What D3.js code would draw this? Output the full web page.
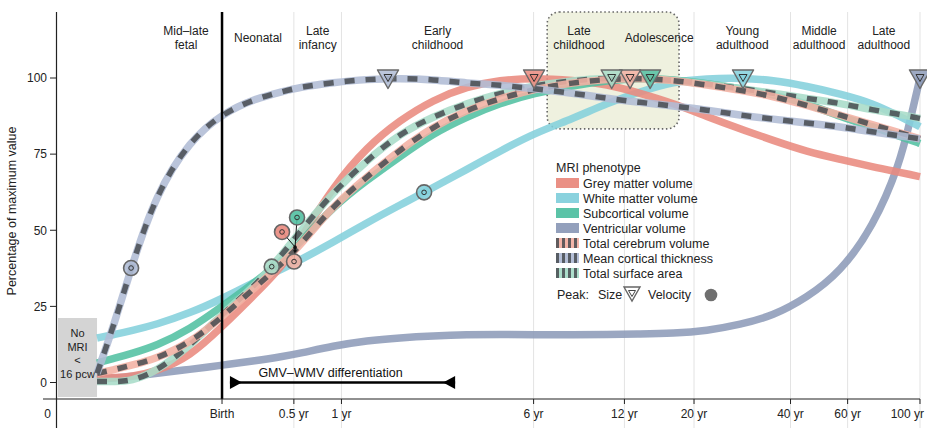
<!DOCTYPE html>
<html><head><meta charset="utf-8">
<script src="https://cdn.jsdelivr.net/npm/d3@7"></script>
<style>
body{margin:0;background:#fff;}
svg{display:block;font-family:"Liberation Sans",Arial,Helvetica,sans-serif;}
</style>
</head><body>
<svg id="chart" width="927" height="428"></svg>
<script>
// ---------- DATA ----------
const BIRTH_PC = 280 / 365.25;           // birth, in years post-conception
// sample ages in years post-conception
const ages = [0.32, 0.363, 0.406, 0.483, 0.613, 0.767, 0.972, 1.166, 1.322, 1.666, 2.112, 2.661, 3.351, 4.249, 5.352, 6.788, 8.915, 11.31, 14.24, 17.94, 22.76, 28.65, 36.08, 45.77, 57.63, 72.59, 87.7, 94.0, 100.77];
// percentage of maximum value
const greyMatter        = [1.4,1.6,2,3.5,8.5, 18.3,29.3,38,47,64.3, 77.4,86.2,92.8,97.2,99.3, 100,99.3,98,95,91.7, 87.3,83.3,79.5,75.8,73.3, 70.8,69,68.3,67.6];
const whiteMatter       = [14.6,15.8,17,19,22.8, 27.5,33.2,37.3,40.2,46, 52.5,58.3,64,70,76, 81.8,86.7,91.7,95.5,98.8, 99.8,100,99.3,97.3,94.8, 91.7,87.3,85.7,84];
const subcortical       = [6.4,8,9.5,12,17.5, 25,33.1,40,46,57.7, 66.5,74.2,81.8,87.3,91.7, 95,97.5,99.2,99.9,99.5, 98.2,96.6,94.5,91.7,87.3, 84,80.8,79.7,78.5];
const ventricular       = [1,1.5,2,3,4.3, 5.7,7.2,8.5,9.6,12, 13.8,14.7,15.3,15.7,15.8, 15.7,15.7,15.8,15.9,16.1, 17,19,21.9,27.9,36.2, 51,72,86,100];
const totalCerebrum     = [3,4.3,5.6,7.8,13, 21.5,31.5,39,45,58, 67.6,76.4,84,89.5,93.3, 96.3,98.5,99.6,99.9,99.3, 97.7,96,94,91,87.8, 84.6,82,81,80];
const corticalThickness = [3,20,37.6,62,79.5, 88.3,93.3,95.5,97,98.5, 99.6,99.9,99.5,98.3,97.7, 96.5,95,93.3,92,90.8, 89.5,87.8,86.5,85.2,84, 82.3,81,80.5,80];
const surfaceArea       = [0.3,0.3,0.5,3.5,12, 22.5,32,42,49.5,62.5, 73,81.8,87.3,91.7,95, 97.5,99.2,100,99.8,99.3, 98,96.6,95,93.3,91.7, 89.5,88,87.4,86.7];

const seriesNames  = ["Grey matter volume","White matter volume","Subcortical volume","Ventricular volume","Total cerebrum volume","Mean cortical thickness","Total surface area"];
const seriesValues = [greyMatter, whiteMatter, subcortical, ventricular, totalCerebrum, corticalThickness, surfaceArea];
const seriesColors = ["#e98a7e","#84d0dc","#52c0a2","#8d9bb8","#f2b0a3","#b0bcd5","#a8dcc8"];
const seriesDashed = [false,false,false,false,true,true,true];
// peak ages (years post-conception)
const sizePeakAges     = [6.79, 29.25, 15.28, 100.77, 13.28, 2.446, 11.68];
const velocityPeakAges = [1.277, 3.147, 1.277, null, 1.277, 0.406, 1.085];

// x axis ticks (years since birth)
const tickAges   = [0, 0.5, 1, 6, 12, 20, 40, 60, 100];
const tickLabels = ["Birth","0.5 yr","1 yr","6 yr","12 yr","20 yr","40 yr","60 yr","100 yr"];
const yTicks = [0, 25, 50, 75, 100];

// life stages: [start, end] in years post-conception
const stageNames = [["Mid–late","fetal"],["Neonatal"],["Late","infancy"],["Early","childhood"],["Late","childhood"],["Adolescence"],["Young","adulthood"],["Middle","adulthood"],["Late","adulthood"]];
const stageStart = [0.463, 0.767, 1.267, 1.767, 6.767, 12.767, 20.767, 40.767, 60.767];
const stageEnd   = [0.767, 1.267, 1.767, 6.767, 12.767, 20.767, 40.767, 60.767, 100.77];
const highlightRange = [7.44, 18.7];      // late childhood + adolescence box
const differentiationRange = [0.81, 3.91]; // GMV–WMV differentiation
const noMriLines = ["No","MRI","<","16 pcw"];

// ---------- SCALES ----------
const svg = d3.select("#chart");
const x = d3.scaleLog().domain([0.2402, 100.77]).range([56, 920]);
const y = d3.scaleLinear().domain([0, 100]).range([382.5, 78]);
const TOP = 12, AXIS_Y = 399;

// gridlines
const gridAges = tickAges.slice(1).map(a => a + BIRTH_PC);
svg.append("g").selectAll("line").data(gridAges).join("line")
  .attr("x1", d => x(d)).attr("x2", d => x(d))
  .attr("y1", TOP).attr("y2", 428)
  .attr("stroke", "#e3e3e3").attr("stroke-width", 1);

// highlight box
svg.append("rect")
  .attr("x", x(highlightRange[0])).attr("y", TOP)
  .attr("width", x(highlightRange[1]) - x(highlightRange[0]))
  .attr("height", y(83.3) - TOP)
  .attr("rx", 12).attr("ry", 12)
  .attr("fill", "#eff1df").attr("stroke", "#666").attr("stroke-width", 1.6)
  .attr("stroke-dasharray", "1.5,2.6");

// stage labels
const stg = svg.append("g").attr("font-size", 12).attr("fill", "#222").attr("text-anchor", "middle");
stageNames.forEach((lines, i) => {
  const cx = (x(stageStart[i]) + x(stageEnd[i])) / 2;
  if (lines.length === 1) {
    stg.append("text").attr("x", cx).attr("y", 42).text(lines[0]);
  } else {
    lines.forEach((l, j) => stg.append("text").attr("x", cx).attr("y", 35 + j * 14).text(l));
  }
});

// No MRI box
svg.append("rect").attr("x", 58).attr("y", 318).attr("width", x(ages[0]) - 58).attr("height", 79).attr("fill", "#d4d4d4");
svg.append("g").attr("font-size", 11).attr("fill", "#222").attr("text-anchor", "middle")
  .selectAll("text").data(noMriLines).join("text")
  .attr("x", 58 + (x(ages[0]) - 58) / 2).attr("y", (d, i) => 337 + i * 13.7).text(d => d);

// ---------- CURVES ----------
const line = d3.line().x(d => x(d[0])).y(d => y(d[1])).curve(d3.curveBasis);
const drawOrder = [3, 1, 0, 2, 6, 4, 5];
const curves = svg.append("g").attr("fill", "none").attr("stroke-linecap", "butt");
drawOrder.forEach(i => {
  const pts = ages.map((a, k) => [a, seriesValues[i][k]]);
  curves.append("path").attr("d", line(pts))
    .attr("stroke", seriesColors[i]).attr("stroke-width", 7.5).attr("stroke-opacity", 0.88);
  if (seriesDashed[i]) {
    curves.append("path").attr("d", line(pts))
      .attr("stroke", "#474b50").attr("stroke-width", 5.5).attr("stroke-opacity", 0.85)
      .attr("stroke-dasharray", "10,11");
  }
});

// birth line
svg.append("line").attr("x1", x(BIRTH_PC)).attr("x2", x(BIRTH_PC))
  .attr("y1", TOP).attr("y2", AXIS_Y).attr("stroke", "#000").attr("stroke-width", 2.5);

// GMV–WMV differentiation
const dg = svg.append("g");
const dy0 = 382.5, dx1 = x(differentiationRange[0]), dx2 = x(differentiationRange[1]);
dg.append("line").attr("x1", dx1).attr("x2", dx2).attr("y1", dy0).attr("y2", dy0).attr("stroke", "#000").attr("stroke-width", 2.5);
dg.append("path").attr("d", `M${dx1},${dy0-6.5}L${dx1+12},${dy0}L${dx1},${dy0+6.5}Z`).attr("fill", "#000");
dg.append("path").attr("d", `M${dx2},${dy0-6.5}L${dx2-12},${dy0}L${dx2},${dy0+6.5}Z`).attr("fill", "#000");
dg.append("text").attr("x", (dx1 + dx2) / 2 - 12).attr("y", 377).attr("text-anchor", "middle")
  .attr("font-size", 12.5).attr("fill", "#111").text("GMV–WMV differentiation");

// ---------- PEAKS ----------
const valueAt = i => d3.scaleLog().domain(ages).range(seriesValues[i]);
const velOffsets = {0: [-13, -15], 2: [2, -30], 4: [-1, 11]};
const vg = svg.append("g");
seriesNames.forEach((n, i) => {
  const a = velocityPeakAges[i];
  if (a == null) return;
  const px = x(a), py = y(valueAt(i)(a));
  const off = velOffsets[i] || [0, 0];
  const cx = px + off[0], cy = py + off[1];
  if (off[0] || off[1]) {
    vg.append("line").attr("x1", px).attr("y1", py).attr("x2", cx).attr("y2", cy).attr("stroke", "#111").attr("stroke-width", 1);
    vg.append("circle").attr("cx", px).attr("cy", py).attr("r", 1.6).attr("fill", "#111");
  }
  vg.append("circle").attr("cx", cx).attr("cy", cy).attr("r", 7.5)
    .attr("fill", seriesColors[i]).attr("fill-opacity", 0.9).attr("stroke", "#666").attr("stroke-width", 1.6);
  vg.append("circle").attr("cx", cx).attr("cy", cy).attr("r", 2.3).attr("fill", "none").attr("stroke", "#333").attr("stroke-width", 1);
});

const tri = (px, py) => `M${px-10.5},${py-8}L${px+10.5},${py-8}L${px},${py+10.5}Z`;
const triIn = (px, py) => `M${px-4},${py-3.5}L${px+4},${py-3.5}L${px},${py+3.5}Z`;
const pg = svg.append("g");
seriesNames.forEach((n, i) => {
  const px = x(sizePeakAges[i]), py = y(100);
  pg.append("path").attr("d", tri(px, py)).attr("fill", seriesColors[i]).attr("fill-opacity", 0.85)
    .attr("stroke", "#6a6a6a").attr("stroke-width", 1.5).attr("stroke-linejoin", "round");
  pg.append("path").attr("d", triIn(px, py)).attr("fill", "none").attr("stroke", "#333").attr("stroke-width", 1);
});

// ---------- AXES ----------
const ax = svg.append("g").attr("font-size", 12).attr("fill", "#222");
// y axis
ax.append("line").attr("x1", 56.5).attr("x2", 56.5).attr("y1", TOP).attr("y2", 428).attr("stroke", "#222").attr("stroke-width", 1.2);
yTicks.forEach(v => {
  ax.append("line").attr("x1", 50).attr("x2", 56.5).attr("y1", y(v)).attr("y2", y(v)).attr("stroke", "#222");
  ax.append("text").attr("x", 47).attr("y", y(v) + 4.3).attr("text-anchor", "end").text(v);
});
ax.append("text").attr("transform", "translate(16,211) rotate(-90)").attr("text-anchor", "middle")
  .attr("font-size", 12.5).text("Percentage of maximum value");
// x axis
ax.append("line").attr("x1", 43).attr("x2", 920).attr("y1", AXIS_Y).attr("y2", AXIS_Y).attr("stroke", "#222").attr("stroke-width", 1.2);
ax.append("text").attr("x", 47.5).attr("y", 418).attr("text-anchor", "middle").text("0");
tickAges.forEach((a, i) => {
  const px = x(a + BIRTH_PC);
  const last = i === tickAges.length - 1;
  ax.append("line").attr("x1", px).attr("x2", px).attr("y1", AXIS_Y).attr("y2", AXIS_Y + 5).attr("stroke", "#222");
  ax.append("text").attr("x", last ? 924 : px).attr("y", 418)
    .attr("text-anchor", last ? "end" : "middle").text(tickLabels[i]);
});

// ---------- LEGEND ----------
const lg = svg.append("g").attr("font-size", 12.5).attr("fill", "#222");
const LX = 556;
lg.append("text").attr("x", LX).attr("y", 171.5).text("MRI phenotype");
seriesNames.forEach((n, i) => {
  const cy = 183 + i * 15;
  lg.append("rect").attr("x", LX).attr("y", cy - 5).attr("width", 23).attr("height", 10)
    .attr("fill", seriesColors[i]).attr("fill-opacity", 0.95);
  if (seriesDashed[i]) {
    for (let k = 0; k < 4; k++) {
      lg.append("rect").attr("x", LX + k * 6).attr("y", cy - 5).attr("width", 3).attr("height", 10)
        .attr("fill", "#474b50").attr("fill-opacity", 0.85);
    }
  }
  lg.append("text").attr("x", LX + 27).attr("y", cy + 4.5).text(n);
});
const peakY = 294;
lg.append("text").attr("x", LX + 1).attr("y", peakY + 4.5).text("Peak:");
lg.append("text").attr("x", 598).attr("y", peakY + 4.5).text("Size");
lg.append("path").attr("d", `M624,${peakY-7}L640,${peakY-7}L632,${peakY+7}Z`).attr("fill", "#fff").attr("stroke", "#666").attr("stroke-width", 1.4);
lg.append("path").attr("d", `M628.5,${peakY-3.5}L635.5,${peakY-3.5}L632,${peakY+2.5}Z`).attr("fill", "none").attr("stroke", "#444").attr("stroke-width", 1);
lg.append("text").attr("x", 648).attr("y", peakY + 4.5).text("Velocity");
lg.append("circle").attr("cx", 711).attr("cy", peakY + 1).attr("r", 6.3).attr("fill", "#6f6f6f");
</script>
</body></html>
